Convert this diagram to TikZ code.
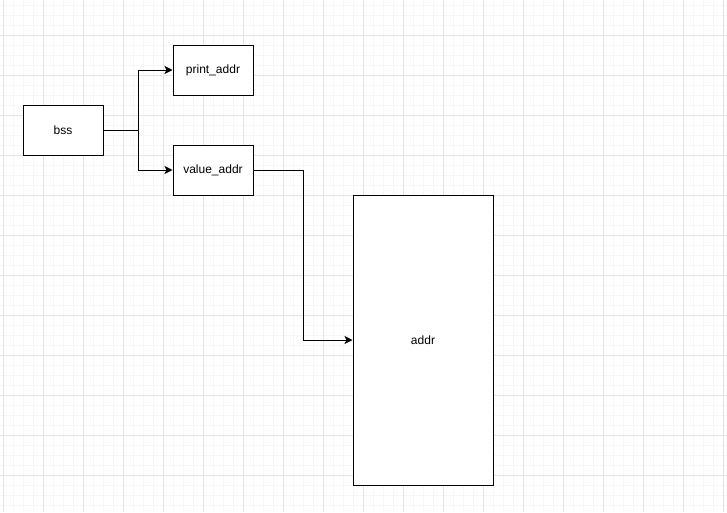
\documentclass[tikz,border=0pt]{standalone}
\usepackage{fontspec}
\setmainfont{Liberation Sans}
\usetikzlibrary{arrows.meta}

\tikzset{
  gridminor/.style={draw=black!3, line width=0.8pt},
  gridmajor/.style={draw=black!11, line width=0.8pt},
  membox/.style={draw=black, fill=white, line width=1pt, inner sep=0pt,
    font=\fontsize{12}{14}\selectfont},
  link/.style={draw=black, line width=1pt, -{Stealth[length=8pt,width=8pt,inset=2pt]}}
}

\begin{document}
\begin{tikzpicture}[x=1pt, y=-1pt]
        \useasboundingbox[fill=white] (0,0) rectangle (727,512);
        % background grid
        \foreach \x in {3,13,...,723} \draw[gridminor] (\x,0) -- (\x,512);
        \foreach \y in {5,15,...,505} \draw[gridminor] (0,\y) -- (727,\y);
        \foreach \x in {3,43,...,723} \draw[gridmajor] (\x,0) -- (\x,512);
        \foreach \y in {35,75,...,475} \draw[gridmajor] (0,\y) -- (727,\y);

        % boxes
        \node[membox, minimum width=80pt, minimum height=50pt] (bss) at (63,130) {bss};
        \node[membox, minimum width=80pt, minimum height=50pt] (print_addr) at (213,70) {print\_addr};
        \node[membox, minimum width=80pt, minimum height=50pt] (value_addr) at (213,170) {value\_addr};
        \node[membox, minimum width=140pt, minimum height=290pt] (addr) at (423,340) {addr};

        % connectors
        \coordinate (split) at (138,130);
        \coordinate (bend) at (303,170);
        \draw[link] (bss.east) -- (split) |- (print_addr.west);
        \draw[link] (bss.east) -- (split) |- (value_addr.west);
        \draw[link] (value_addr.east) -- (bend) |- (addr.west);
    \end{tikzpicture}
\end{document}
